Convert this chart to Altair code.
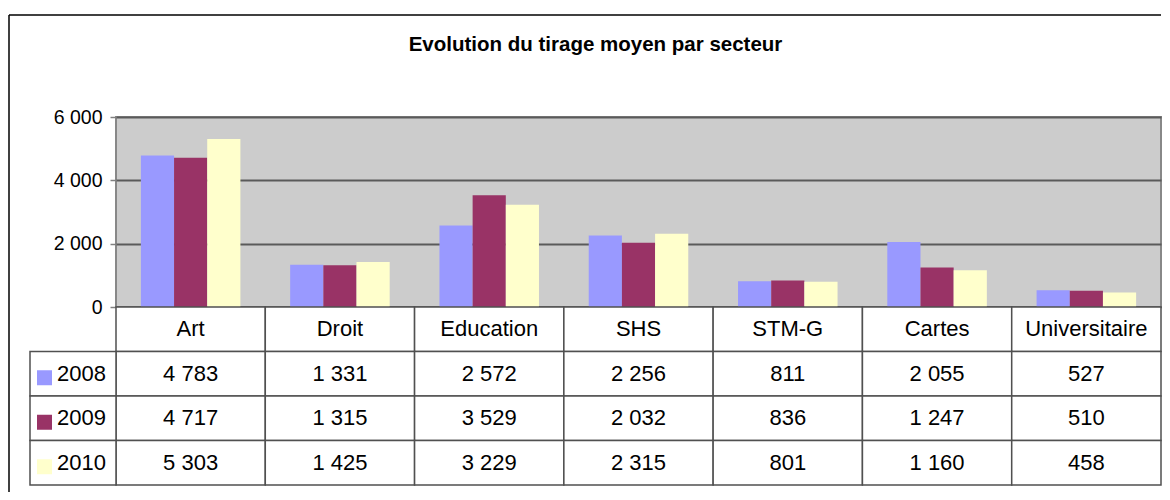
import altair as alt
import pandas as pd

# ---- data ----
categories = ["Art", "Droit", "Education", "SHS", "STM-G", "Cartes", "Universitaire"]
years = ["2008", "2009", "2010"]
v2008 = [4783, 1331, 2572, 2256, 811, 2055, 527]
v2009 = [4717, 1315, 3529, 2032, 836, 1247, 510]
v2010 = [5303, 1425, 3229, 2315, 801, 1160, 458]
colors = ["#9999FF", "#993366", "#FFFFCC"]
y_ticks = [0, 2000, 4000, 6000]
title_text = "Evolution du tirage moyen par secteur"

rows = ["hdr"] + years

records = []
for yname, vals in zip(years, [v2008, v2009, v2010]):
    for c, v in zip(categories, vals):
        records.append({"cat": c, "year": yname, "row": yname, "value": v,
                        "label": f"{v:,}".replace(",", " ")})
df = pd.DataFrame(records)
hdr = pd.DataFrame({"cat": categories, "row": ["hdr"] * len(categories)})
yr = pd.DataFrame({"year": years, "row": years})
one = pd.DataFrame({"k": [0]})

W, H = 1045, 190
TABLE_BOTTOM = 368
FONT = "Liberation Sans"
LINE = "#505050"

color_scale = alt.Scale(domain=years, range=colors)


def tx():
    return alt.X("cat:N", axis=None,
                 scale=alt.Scale(domain=categories, paddingInner=0, paddingOuter=0))


def ty():
    return alt.Y("row:N", axis=None,
                 scale=alt.Scale(domain=rows, range=[H, TABLE_BOTTOM],
                                 paddingInner=0, paddingOuter=0))


# outer chart frame (decoration)
frame_top = alt.Chart(one).mark_rule(color="black", strokeWidth=1.5).encode(
    x=alt.value(-107), x2=alt.value(W), y=alt.value(-102)
)
frame_left = alt.Chart(one).mark_rule(color="black", strokeWidth=1.5).encode(
    x=alt.value(-107), y=alt.value(-102), y2=alt.value(375)
)

bars = alt.Chart(df).mark_bar().encode(
    x=alt.X("cat:N", sort=categories, axis=None,
            scale=alt.Scale(domain=categories, paddingInner=1 / 3, paddingOuter=1 / 6)),
    xOffset=alt.XOffset("year:N", sort=years,
                        scale=alt.Scale(domain=years, paddingInner=0, paddingOuter=0)),
    y=alt.Y("value:Q",
            scale=alt.Scale(domain=[0, 6000], nice=False),
            axis=alt.Axis(values=y_ticks, title=None,
                          labelExpr="replace(format(datum.value, ','), ',', ' ')",
                          labelFont=FONT, labelFontSize=19.5, labelColor="black",
                          labelPadding=8, tickSize=6, tickColor="#808080", tickWidth=1.5,
                          domain=False, grid=True, gridColor="#5a5a5a", gridWidth=2)),
    color=alt.Color("year:N", scale=color_scale, legend=None),
)

cells_hdr = alt.Chart(hdr).mark_rect(fill="white", stroke=LINE, strokeWidth=1.5).encode(
    x=tx(), y=ty()
)
cells_val = alt.Chart(df).mark_rect(fill="white", stroke=LINE, strokeWidth=1.5).encode(
    x=tx(), y=ty()
)
cells_lab = alt.Chart(yr).mark_rect(fill="white", stroke=LINE, strokeWidth=1.5).encode(
    x=alt.value(-86), x2=alt.value(0), y=ty()
)

txt_hdr = alt.Chart(hdr).mark_text(font=FONT, fontSize=22, color="black",
                                   baseline="middle").encode(x=tx(), y=ty(), text="cat:N")
txt_val = alt.Chart(df).mark_text(font=FONT, fontSize=22, color="black",
                                  baseline="middle").encode(x=tx(), y=ty(), text="label:N")
txt_lab = alt.Chart(yr).mark_text(font=FONT, fontSize=22, color="black", align="left",
                                  baseline="middle").encode(
    x=alt.value(-59), y=ty(), text="year:N")
swatch = alt.Chart(yr).mark_square(size=225, opacity=1, yOffset=4).encode(
    x=alt.value(-71.5), y=ty(),
    color=alt.Color("year:N", scale=color_scale, legend=None),
)

chart = alt.layer(
    frame_top, frame_left, bars,
    cells_hdr, cells_val, cells_lab,
    txt_hdr, txt_val, txt_lab, swatch,
).resolve_scale(
    x="independent", y="independent"
).properties(
    width=W, height=H,
    title=alt.TitleParams(title_text, font=FONT, fontSize=20.5, fontWeight="bold",
                          color="black", anchor="middle", frame="group",
                          dx=-43, dy=41, offset=0),
    padding={"left": 0, "top": 6, "right": 0, "bottom": 0},
    background="white",
).configure_view(
    fill="#CCCCCC", stroke="#888888", strokeWidth=2
)

chart.save("out.html", embed_options={"renderer": "svg", "actions": False})
